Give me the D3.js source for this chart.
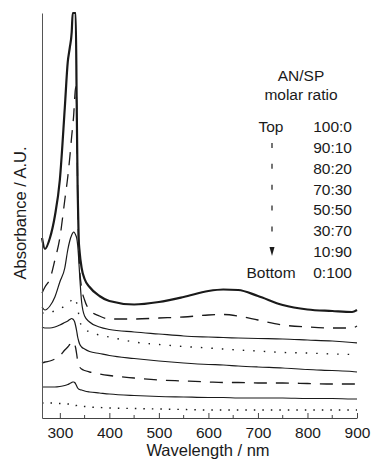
<!DOCTYPE html>
<html>
<head>
<meta charset="utf-8">
<script src="https://cdn.jsdelivr.net/npm/d3@7"></script>
<style>
  body { margin: 0; background: #fff; }
  svg { display: block; font-family: "Liberation Sans", Arial, sans-serif; }
</style>
</head>
<body>
<svg id="chart" width="373" height="463"></svg>
<script>
// wavelength grid (nm) shared by every spectrum
const wavelengths = [264, 270, 280, 290, 300, 310, 316, 320, 324, 326, 328, 330, 332, 334, 336, 338, 340, 344, 350, 360, 380, 400, 450, 500, 550, 600, 630, 660, 700, 750, 800, 850, 890, 900];

// AN/SP molar ratios, top curve first
const ratios = ['100:0', '90:10', '80:20', '70:30', '50:50', '30:70', '10:90', '0:100'];

// absorbance (offset, arbitrary units)
const abs100_0 = [1.80, 1.69, 1.80, 2.02, 2.38, 3.10, 3.56, 3.70, 3.86, 4.05, 4.05, 4.05, 4.05, 3.18, 2.28, 1.80, 1.66, 1.50, 1.39, 1.31, 1.22, 1.17, 1.135, 1.16, 1.21, 1.27, 1.285, 1.28, 1.22, 1.13, 1.085, 1.07, 1.06, 1.08];
const abs90_10 = [1.25, 1.31, 1.39, 1.58, 1.80, 2.18, 2.41, 2.60, 2.82, 2.92, 3.03, 3.20, 3.31, 3.13, 2.28, 1.73, 1.50, 1.30, 1.18, 1.08, 1.02, 0.99, 0.99, 1.00, 1.01, 1.03, 1.035, 1.02, 0.98, 0.93, 0.91, 0.90, 0.90, 0.92];
const abs80_20 = [1.11, 1.08, 1.12, 1.21, 1.36, 1.50, 1.68, 1.77, 1.83, 1.85, 1.86, 1.85, 1.83, 1.80, 1.73, 1.60, 1.43, 1.16, 1.02, 0.96, 0.91, 0.885, 0.86, 0.84, 0.82, 0.81, 0.805, 0.80, 0.795, 0.79, 0.78, 0.77, 0.755, 0.75];
const abs70_30 = [1.05, 1.05, 1.06, 1.07, 1.09, 1.12, 1.14, 1.16, 1.18, 1.19, 1.20, 1.20, 1.18, 1.15, 1.10, 1.04, 0.98, 0.92, 0.89, 0.86, 0.83, 0.81, 0.76, 0.735, 0.715, 0.70, 0.69, 0.68, 0.67, 0.655, 0.65, 0.64, 0.635, 0.63];
const abs50_50 = [0.91, 0.90, 0.90, 0.91, 0.93, 0.955, 0.97, 0.985, 0.995, 0.99, 0.98, 0.96, 0.92, 0.87, 0.81, 0.77, 0.74, 0.71, 0.69, 0.665, 0.645, 0.625, 0.595, 0.57, 0.55, 0.535, 0.53, 0.52, 0.51, 0.50, 0.485, 0.475, 0.465, 0.46];
const abs30_70 = [0.55, 0.56, 0.57, 0.59, 0.62, 0.68, 0.71, 0.735, 0.76, 0.765, 0.76, 0.74, 0.70, 0.64, 0.57, 0.53, 0.51, 0.49, 0.475, 0.46, 0.44, 0.425, 0.40, 0.38, 0.37, 0.36, 0.355, 0.355, 0.35, 0.35, 0.345, 0.34, 0.34, 0.34];
const abs10_90 = [0.31, 0.31, 0.31, 0.31, 0.315, 0.325, 0.335, 0.345, 0.355, 0.36, 0.36, 0.355, 0.34, 0.32, 0.30, 0.29, 0.285, 0.28, 0.27, 0.26, 0.25, 0.24, 0.225, 0.215, 0.21, 0.205, 0.205, 0.20, 0.20, 0.20, 0.195, 0.195, 0.19, 0.19];
const abs0_100 = [0.15, 0.15, 0.15, 0.15, 0.145, 0.145, 0.14, 0.14, 0.14, 0.135, 0.13, 0.13, 0.125, 0.125, 0.12, 0.12, 0.12, 0.115, 0.115, 0.11, 0.105, 0.10, 0.095, 0.09, 0.085, 0.08, 0.08, 0.08, 0.08, 0.08, 0.08, 0.08, 0.08, 0.08];

const majorTicks = [300, 400, 500, 600, 700, 800, 900];
const minorTicks = [350, 450, 550, 650, 750, 850];

const spectra = [abs100_0, abs90_10, abs80_20, abs70_30, abs50_50, abs30_70, abs10_90, abs0_100];

// line styles, same order as ratios
const styles = [
  { width: 2.2, dash: null },
  { width: 1.3, dash: '13 9' },
  { width: 1.2, dash: null },
  { width: 1.4, dash: '1.5 9' },
  { width: 1.2, dash: null },
  { width: 1.3, dash: '13 9' },
  { width: 1.2, dash: null },
  { width: 1.4, dash: '1.5 7' }
];

const svg = d3.select('#chart');
const ink = '#1a1a1a';

const x = d3.scaleLinear().domain([264, 900]).range([42, 357]);
const y = d3.scaleLinear().domain([0, 4.05]).range([418, 13]);

const line = d3.line()
  .x(d => x(d[0]))
  .y(d => y(d[1]))
  .curve(d3.curveMonotoneX);

// spectra
svg.append('g')
  .selectAll('path')
  .data(spectra)
  .enter()
    .append('path')
    .attr('d', vals => line(wavelengths.map((w, i) => [w, vals[i]])))
    .attr('fill', 'none')
    .attr('stroke', ink)
    .attr('stroke-width', (d, i) => styles[i].width)
    .attr('stroke-dasharray', (d, i) => styles[i].dash)
    .attr('stroke-linejoin', 'round');

// bottom axis, ticks point inward
const xAxis = svg.append('g')
  .attr('transform', 'translate(0,418)')
  .call(d3.axisBottom(x)
    .tickValues(majorTicks)
    .tickSizeInner(-5)
    .tickSizeOuter(0)
    .tickPadding(8.5)
    .tickFormat(d3.format('d')));

xAxis.selectAll('.minor')
  .data(minorTicks)
  .enter()
    .append('line')
    .attr('class', 'minor')
    .attr('x1', d => x(d))
    .attr('x2', d => x(d))
    .attr('y1', 0)
    .attr('y2', -3)
    .attr('stroke', '#444');

xAxis.select('.domain').attr('stroke', '#444');
xAxis.selectAll('.tick line').attr('stroke', '#444');
xAxis.selectAll('text')
  .attr('fill', ink)
  .style('font-size', '15.5px');

// left axis is a bare line
const yAxis = svg.append('g')
  .attr('transform', 'translate(42,0)')
  .call(d3.axisLeft(y).tickValues([]).tickSizeOuter(0));
yAxis.select('.domain').attr('stroke', '#555');

// axis titles
svg.append('text')
  .attr('x', 208)
  .attr('y', 456)
  .attr('text-anchor', 'middle')
  .attr('fill', ink)
  .style('font-size', '16.5px')
  .text('Wavelength / nm');

svg.append('text')
  .attr('transform', 'translate(26,213) rotate(-90)')
  .attr('text-anchor', 'middle')
  .attr('fill', ink)
  .style('font-size', '16.5px')
  .text('Absorbance / A.U.');

// legend
const legend = svg.append('g')
  .attr('fill', ink)
  .style('font-size', '15.5px');

legend.append('text')
  .attr('x', 301).attr('y', 81)
  .attr('text-anchor', 'middle')
  .text('AN/SP');

legend.append('text')
  .attr('x', 301).attr('y', 100)
  .attr('text-anchor', 'middle')
  .text('molar ratio');

const rowStep = 20.86;
legend.selectAll('.ratio')
  .data(ratios)
  .enter()
    .append('text')
    .attr('class', 'ratio')
    .attr('x', 352)
    .attr('y', (d, i) => 132 + i * rowStep)
    .attr('text-anchor', 'end')
    .text(d => d);

legend.append('text')
  .attr('x', 271).attr('y', 132)
  .attr('text-anchor', 'middle')
  .text('Top');

legend.append('text')
  .attr('x', 271).attr('y', 132 + 7 * rowStep)
  .attr('text-anchor', 'middle')
  .text('Bottom');

// dashed arrow from Top to Bottom
legend.append('line')
  .attr('x1', 272).attr('x2', 272)
  .attr('y1', 143).attr('y2', 236)
  .attr('stroke', ink)
  .attr('stroke-width', 1.2)
  .attr('stroke-dasharray', '5 15.86');

legend.append('path')
  .attr('d', 'M269.5,247 L274.5,247 L272,256 Z')
  .attr('fill', ink);
</script>
</body>
</html>
